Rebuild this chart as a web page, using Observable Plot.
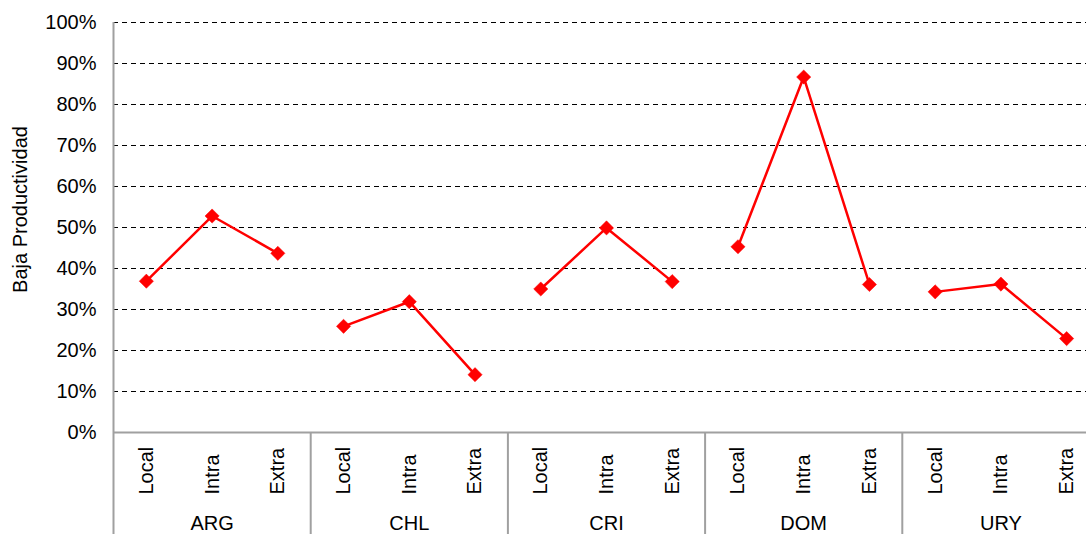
<!DOCTYPE html>
<html>
<head>
<meta charset="utf-8">
<script src="https://cdn.jsdelivr.net/npm/d3@7"></script>
<script src="https://cdn.jsdelivr.net/npm/@observablehq/plot@0.6"></script>
<style>
  html, body { margin: 0; padding: 0; background: #fff; }
  #chart { width: 1086px; height: 534px; overflow: hidden; }
</style>
</head>
<body>
<div id="chart"></div>
<script>
const countries = ["ARG", "CHL", "CRI", "DOM", "URY"];
const types = ["Local", "Intra", "Extra"];
const argValues = [0.369, 0.528, 0.437];
const chlValues = [0.259, 0.319, 0.141];
const criValues = [0.350, 0.499, 0.368];
const domValues = [0.453, 0.867, 0.361];
const uryValues = [0.343, 0.362, 0.229];
const yTicks = [0, 0.1, 0.2, 0.3, 0.4, 0.5, 0.6, 0.7, 0.8, 0.9, 1.0];
const yLabel = "Baja Productividad";

const seriesValues = [argValues, chlValues, criValues, domValues, uryValues];
const rows = [];
countries.forEach((c, i) => {
  types.forEach((t, j) => {
    rows.push({country: c, type: t, key: c + "|" + t, value: seriesValues[i][j]});
  });
});
const keys = rows.map(d => d.key);

const W = 1086, H = 534;
const mL = 113, mT = 22, mB = 102;
const xRight = 1099;
const step = (xRight - mL) / keys.length;
const frameH = H - mT - mB;
const axisColor = "#a0a0a0";
const red = "#ff0000";

const chart = Plot.plot({
  width: W,
  height: H,
  marginLeft: mL,
  marginTop: mT,
  marginBottom: mB,
  marginRight: 0,
  style: {
    fontSize: "20px",
    fontFamily: "'Liberation Sans', Arial, sans-serif",
    color: "#000",
    background: "#fff",
    overflow: "visible"
  },
  x: {type: "point", domain: keys, range: [mL, xRight], padding: 0.5, align: 0.5, round: false, axis: null},
  y: {
    domain: [0, 1],
    ticks: yTicks,
    tickFormat: d3.format(".0%"),
    tickSize: 0,
    tickPadding: 17,
    label: null
  },
  marks: [
    // dashed gridlines
    Plot.ruleY(yTicks.filter(d => d > 0), {stroke: "#000", strokeWidth: 1, strokeDasharray: "5,4"}),
    // bottom axis line
    Plot.ruleY([0], {stroke: axisColor, strokeWidth: 2}),
    // left axis line (through category area)
    Plot.ruleX([keys[0]], {dx: -step / 2, stroke: axisColor, strokeWidth: 2, insetBottom: -mB}),
    // category separators below axis
    Plot.ruleX(countries.slice(1).map(c => c + "|" + types[0]), {
      dx: -step / 2, stroke: axisColor, strokeWidth: 2, insetTop: frameH, insetBottom: -mB
    }),
    // lines
    Plot.line(rows, {x: "key", y: "value", z: "country", stroke: red, strokeWidth: 2.5}),
    Plot.dot(rows, {x: "key", y: "value", symbol: "diamond2", r: 6.4, fill: red, stroke: red, strokeWidth: 0.5}),
    // type labels (rotated)
    Plot.text(rows, {
      x: "key", text: "type", frameAnchor: "bottom", rotate: -90,
      textAnchor: "start", lineAnchor: "middle", dy: 62, fill: "#000"
    }),
    // country labels
    Plot.text(rows.filter(d => d.type === types[1]), {
      x: "key", text: "country", frameAnchor: "bottom",
      textAnchor: "middle", lineAnchor: "middle", dy: 91, fill: "#000"
    }),
    // y axis title
    Plot.text([yLabel], {
      frameAnchor: "left", rotate: -90, textAnchor: "middle", lineAnchor: "middle",
      dx: -92.5, dy: -18, fill: "#000"
    })
  ]
});
document.getElementById("chart").appendChild(chart);
</script>
</body>
</html>
